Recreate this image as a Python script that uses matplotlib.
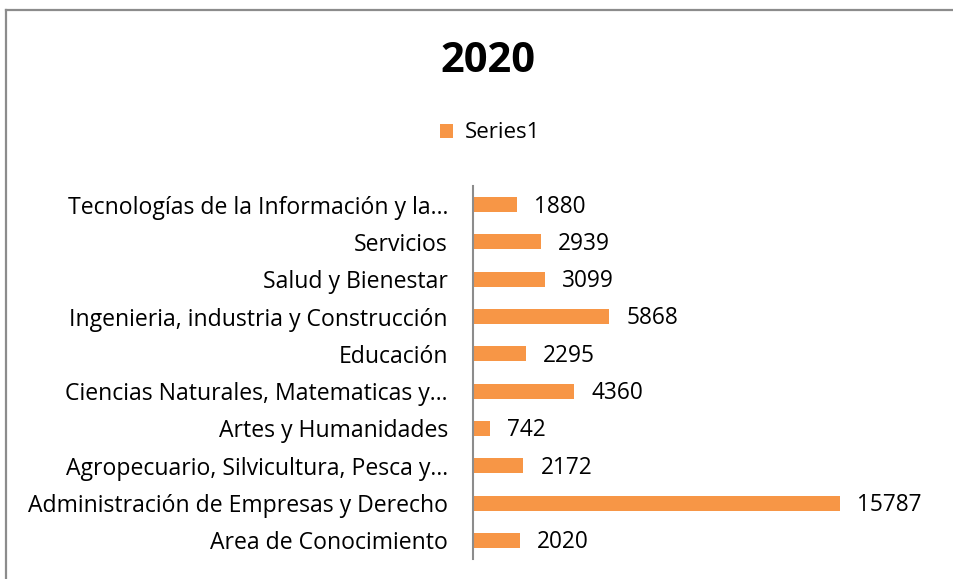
import matplotlib
matplotlib.use("Agg")
import matplotlib.pyplot as plt
from matplotlib.lines import Line2D
from matplotlib.patches import Patch

plt.rcParams['font.family'] = ['Open Sans', 'DejaVu Sans']

categories = [
    "Area de Conocimiento",
    "Administración de Empresas y Derecho",
    "Agropecuario, Silvicultura, Pesca y…",
    "Artes y Humanidades",
    "Ciencias Naturales, Matematicas y…",
    "Educación",
    "Ingenieria, industria y Construcción",
    "Salud y Bienestar",
    "Servicios",
    "Tecnologías de la Información y la…",
]
values = [2020, 15787, 2172, 742, 4360, 2295, 5868, 3099, 2939, 1880]
series_name = "Series1"
title = "2020"

bar_color = "#F79646"
W, H = 954, 579
fig = plt.figure(figsize=(W / 100, H / 100), dpi=100)

# axes box in pixel units (left, top, right, bottom)
ax_left, ax_top, ax_right, ax_bottom = 473, 186, 891, 559
ax = fig.add_axes([ax_left / W, 1 - ax_bottom / H,
                   (ax_right - ax_left) / W, (ax_bottom - ax_top) / H])

y = list(range(len(categories)))
ax.barh(y, values, height=0.4, color=bar_color)
ax.set_xlim(0, 18000)
ax.set_ylim(-0.5, len(categories) - 0.5)
ax.set_yticks(y)
ax.set_yticklabels(categories, fontsize=16.6, color="#000000")
ax.tick_params(axis='y', length=0, pad=18)
ax.set_xticks([])
for s in ("top", "right", "bottom"):
    ax.spines[s].set_visible(False)
ax.spines["left"].set_color("#8C8C8C")
ax.spines["left"].set_linewidth(1.5)

for yi, v in zip(y, values):
    ax.text(v + 730, yi - 0.05, str(v), va="center", ha="left", fontsize=16.3, color="#000000")

fig.text(488 / W, 1 - 62 / H, title, ha="center", va="center",
         fontsize=30, fontweight="bold")

fig.legend(handles=[Patch(facecolor=bar_color, label=series_name)],
           loc="center", bbox_to_anchor=(490 / W, 1 - 133 / H), frameon=False,
           fontsize=16, handlelength=0.6, handleheight=0.6, handletextpad=0.5)

# chart-area border (top and left edges)
fig.add_artist(Line2D([6 / W, 1], [1 - 9.5 / H, 1 - 9.5 / H], color="#8C8C8C", lw=1.6))
fig.add_artist(Line2D([6 / W, 6 / W], [0, 1 - 9.5 / H], color="#8C8C8C", lw=1.6))

fig.savefig("out.png", dpi=100, facecolor="white")
